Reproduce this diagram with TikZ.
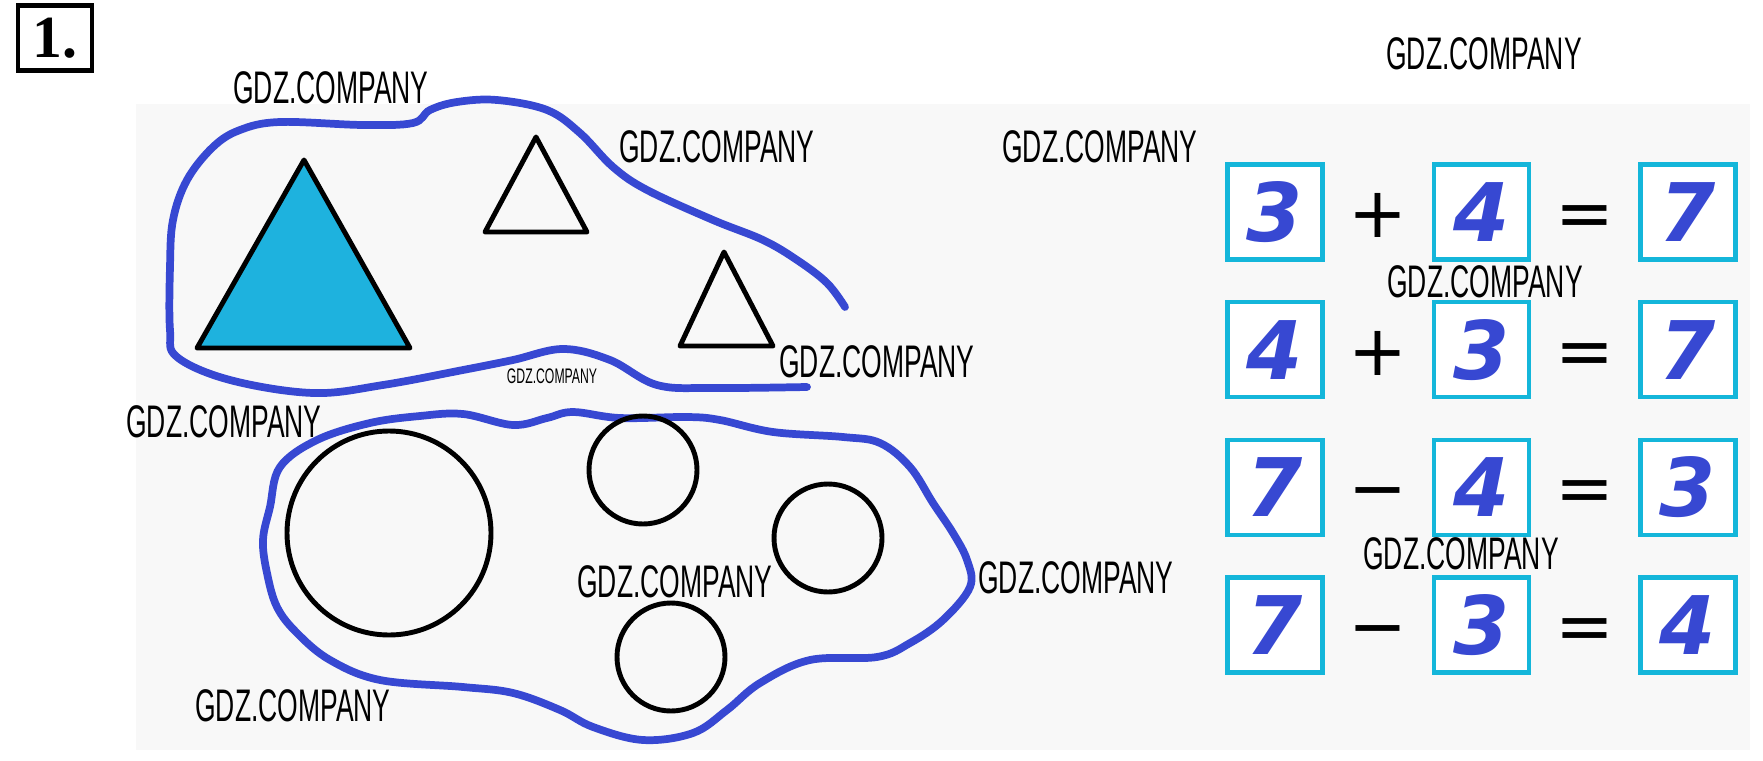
\documentclass[tikz,border=0pt]{standalone}
\usepackage{fontspec}
\usetikzlibrary{positioning}

\newfontfamily\digitfont{DejaVu Sans}
\newfontfamily\opfont{DejaVu Sans}
\newfontfamily\wmfont{Liberation Sans}[FakeStretch=0.58]
\newfontfamily\numfont{Liberation Serif}

\definecolor{penblue}{RGB}{55,72,210}
\definecolor{boxcyan}{RGB}{20,182,218}
\definecolor{trifill}{RGB}{30,178,222}
\definecolor{panel}{RGB}{248,248,248}

\tikzset{
  numbox/.style={draw=boxcyan,line width=2.4pt,fill=white,minimum size=1.9cm,inner sep=0pt,
    text=penblue,font=\digitfont\bfseries\itshape\fontsize{46}{46}\selectfont},
  op/.style={font=\opfont\fontsize{40}{40}\selectfont,inner sep=0pt,text height=29pt,text depth=0pt},
  wm/.style={font=\wmfont\fontsize{26}{26}\selectfont,inner sep=0pt},
  blob/.style={draw=penblue,line width=4.4pt,line cap=round,line join=round},
  figline/.style={draw=black,line width=2.8pt,line join=round}
}

\begin{document}
\begin{tikzpicture}[x=0.02cm,y=-0.02cm,node distance=2.754cm and 2.065cm,on grid]
    \useasboundingbox (0,0) rectangle (1763,760);
    \fill[panel] (136,104) rectangle (1750,750);

    % sets drawn round the figures
    \draw[blob] plot[smooth,tension=0.6] coordinates {(845,307) (827,283) (797,260) (763,240)
      (713,220) (647,190) (613,167) (580,133) (547,110) (497,100) (457,102) (430,110)
      (413,123) (363,125) (280,122) (240,130) (213,147) (187,180) (173,220) (170,267)
      (170,330) (177,357) (230,380) (313,393) (383,385) (463,370) (513,360) (563,349)
      (610,360) (657,385) (713,388) (807,387)};
    \draw[blob] plot[smooth cycle,tension=0.6] coordinates {(370,423) (420,416) (463,414)
      (513,425) (547,418) (573,412) (620,418) (687,417) (720,420) (773,432) (843,437)
      (880,443) (910,467) (933,503) (953,533) (967,560) (970,587) (943,620) (910,643)
      (877,657) (810,660) (760,683) (727,710) (693,733) (643,740) (593,727) (560,710)
      (513,693) (463,687) (380,680) (330,660) (297,633) (277,607) (267,573) (263,540)
      (270,507) (280,467) (317,440)};

    % triangles
    \filldraw[figline,fill=trifill] (304,160) -- (410,348) -- (197,348) -- cycle;
    \draw[figline] (536,137) -- (587,232) -- (485,232) -- cycle;
    \draw[figline] (724,252) -- (773,346) -- (680,346) -- cycle;

    % circles
    \draw[figline] (389,533) circle (102);
    \draw[figline] (643,470) circle (54);
    \draw[figline] (828,538) circle (54);
    \draw[figline] (671,657) circle (54);

    \node[draw,line width=2.8pt,minimum width=1.48cm,minimum height=1.3cm,inner sep=0pt,
      font=\numfont\bfseries\fontsize{34}{34}\selectfont] (num) at (55,38) {1.};

    % equations
    \node[numbox] (a1) at (1275,212) {3};
    \node[op]     (p1) [right=of a1] {+};
    \node[numbox] (b1) [right=of p1] {4};
    \node[op]     (e1) [right=of b1] {=};
    \node[numbox] (c1) [right=of e1] {7};

    \node[numbox] (a2) [below=of a1] {4};
    \node[op]     (p2) [right=of a2] {+};
    \node[numbox] (b2) [right=of p2] {3};
    \node[op]     (e2) [right=of b2] {=};
    \node[numbox] (c2) [right=of e2] {7};

    \node[numbox] (a3) [below=of a2] {7};
    \node[op]     (p3) [right=of a3] {−};
    \node[numbox] (b3) [right=of p3] {4};
    \node[op]     (e3) [right=of b3] {=};
    \node[numbox] (c3) [right=of e3] {3};

    \node[numbox] (a4) [below=of a3] {7};
    \node[op]     (p4) [right=of a4] {−};
    \node[numbox] (b4) [right=of p4] {3};
    \node[op]     (e4) [right=of b4] {=};
    \node[numbox] (c4) [right=of e4] {4};

    % watermarks
    \node[wm] (wm1)  at (331,88)   {GDZ.COMPANY};
    \node[wm] (wm2)  at (717,147)  {GDZ.COMPANY};
    \node[wm] (wm3)  at (1100,147) {GDZ.COMPANY};
    \node[wm] (wm4)  at (1484,54)  {GDZ.COMPANY};
    \node[wm] (wm5)  at (1485,282) {GDZ.COMPANY};
    \node[wm] (wm6)  at (877,362)  {GDZ.COMPANY};
    \node[wm] (wm7)  at (224,422)  {GDZ.COMPANY};
    \node[wm,font=\wmfont\fontsize{12}{12}\selectfont] (wm8) at (552,376) {GDZ.COMPANY};
    \node[wm] (wm9)  at (675,582)  {GDZ.COMPANY};
    \node[wm] (wm10) at (1076,578) {GDZ.COMPANY};
    \node[wm] (wm11) at (1461,554) {GDZ.COMPANY};
    \node[wm] (wm12) at (293,706)  {GDZ.COMPANY};
\end{tikzpicture}
\end{document}
